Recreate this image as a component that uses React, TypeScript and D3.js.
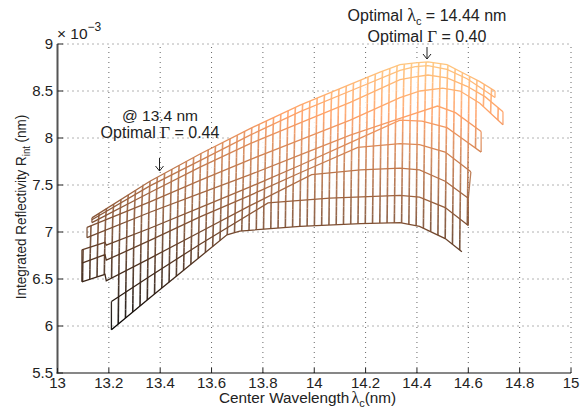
import React from "react";
import * as d3 from "d3";

const W = 586, H = 411;
const xTicks = [13, 13.2, 13.4, 13.6, 13.8, 14, 14.2, 14.4, 14.6, 14.8, 15];
const yTicks = [5.5, 6, 6.5, 7, 7.5, 8, 8.5, 9];

// Each row of the mesh (one Γ), read as wavelength knots and reflectivity (×10⁻³)
const row1L = [13.21, 13.36, 13.66, 13.71, 13.945, 14.18, 14.334, 14.41, 14.51, 14.575];
const row1V = [5.96, 6.30, 6.97, 7.01, 7.06, 7.09, 7.10, 7.06, 6.93, 6.79];
const row2L = [13.21, 13.36, 13.555, 13.82, 14.06, 14.334, 14.41, 14.51, 14.6];
const row2V = [6.26, 6.53, 6.87, 7.31, 7.36, 7.39, 7.37, 7.26, 7.07];
const row3L = [13.095, 13.185, 13.19, 13.36, 13.555, 13.75, 13.99, 14.18, 14.334, 14.41, 14.51, 14.6];
const row3V = [6.47, 6.55, 6.48, 6.72, 7.00, 7.28, 7.61, 7.66, 7.68, 7.66, 7.54, 7.36];
const row4L = [13.095, 13.185, 13.19, 13.36, 13.555, 13.75, 13.945, 14.17, 14.334, 14.41, 14.51, 14.61];
const row4V = [6.67, 6.76, 6.70, 6.91, 7.16, 7.39, 7.63, 7.90, 7.94, 7.93, 7.85, 7.64];
const row5L = [13.095, 13.185, 13.19, 13.36, 13.555, 13.75, 13.945, 14.14, 14.334, 14.42, 14.517, 14.568, 14.65];
const row5V = [6.81, 6.89, 6.86, 7.04, 7.26, 7.48, 7.71, 7.95, 8.19, 8.18, 8.11, 8.01, 7.85];
const row6L = [13.115, 13.36, 13.555, 13.75, 13.945, 14.14, 14.334, 14.48, 14.55, 14.65];
const row6V = [6.94, 7.21, 7.41, 7.61, 7.82, 8.03, 8.21, 8.34, 8.27, 8.07];
const row7L = [13.115, 13.36, 13.555, 13.75, 13.945, 14.14, 14.334, 14.412, 14.5, 14.568, 14.645, 14.735];
const row7V = [7.05, 7.32, 7.55, 7.77, 7.98, 8.19, 8.43, 8.50, 8.53, 8.50, 8.37, 8.14];
const row8L = [13.134, 13.36, 13.555, 13.75, 13.945, 14.14, 14.334, 14.393, 14.443, 14.517, 14.595, 14.665, 14.735];
const row8V = [7.10, 7.42, 7.69, 7.94, 8.16, 8.38, 8.62, 8.65, 8.67, 8.64, 8.55, 8.44, 8.28];
const row9L = [13.134, 13.36, 13.555, 13.75, 13.945, 14.14, 14.334, 14.393, 14.443, 14.517, 14.595, 14.645, 14.704];
const row9V = [7.13, 7.49, 7.76, 8.03, 8.28, 8.50, 8.72, 8.76, 8.77, 8.73, 8.63, 8.54, 8.43];
const row10L = [13.134, 13.36, 13.555, 13.75, 13.945, 14.14, 14.256, 14.334, 14.393, 14.443, 14.517, 14.595, 14.645, 14.704];
const row10V = [7.15, 7.54, 7.83, 8.10, 8.35, 8.57, 8.70, 8.78, 8.80, 8.81, 8.78, 8.67, 8.60, 8.50];

const rowsL = [row1L, row2L, row3L, row4L, row5L, row6L, row7L, row8L, row9L, row10L];
const rowsV = [row1V, row2V, row3V, row4V, row5V, row6V, row7V, row8V, row9V, row10V];
// Wavelength of the mesh columns and their slight drift from row to row
const columns = d3.range(13.095, 14.74, 0.0283);
const rowDrift = 0.0012;
// Pairs of rows whose ends are joined by an edge of the mesh
const startEdges = [[0, 1], [2, 3], [3, 4], [5, 6], [7, 8], [8, 9]];
const endEdges = [[1, 2], [2, 3], [4, 5], [6, 7], [8, 9]];

const x = d3.scaleLinear().domain([13, 15]).range([57.5, 571]);
const y = d3.scaleLinear().domain([5.5, 9]).range([373, 44]);

const zMin = 5.96, zMax = 8.81;
const copperT = [0, 0.8, 1];
const copperC = ["#000000", "#ffa066", "#ffc77f"];
const copper = d3.scaleLinear<string>()
  .domain(copperT.map(t => zMin + t * (zMax - zMin)))
  .range(copperC)
  .clamp(true);

function rowAt(r: number, l0: number): [number, number] | null {
  const L = rowsL[r];
  const l = l0 + r * rowDrift;
  if (l < L[0] || l > L[L.length - 1]) return null;
  const f = d3.scaleLinear().domain(L).range(rowsV[r]);
  return [x(l), y(f(l))];
}

function Mesh() {
  const rowPaths = rowsL.map((L, r) =>
    d3.line<number>().x(d => x(d)).y((_, i) => y(rowsV[r][i]))(L) as string
  );
  const line2 = d3.line();
  let faces = "";
  const pieces: { x1: number; x2: number; y1: number; y2: number; c: string }[] = [];
  for (let r = 0; r < rowsL.length - 1; r++) {
    columns.forEach((l, j) => {
      const p = rowAt(r, l), q = rowAt(r + 1, l);
      if (!p || !q) return;
      const n = Math.max(1, Math.ceil((p[1] - q[1]) / 12));
      for (let k = 0; k < n; k++) {
        const a = p[1] + ((q[1] - p[1]) * k) / n;
        const b = p[1] + ((q[1] - p[1]) * (k + 1)) / n;
        const xa = p[0] + ((q[0] - p[0]) * k) / n;
        const xb = p[0] + ((q[0] - p[0]) * (k + 1)) / n;
        pieces.push({ x1: xa, x2: xb, y1: a, y2: b, c: copper(y.invert((a + b) / 2)) });
      }
      const nx = columns[j + 1];
      const p2 = nx !== undefined ? rowAt(r, nx) : null;
      const q2 = nx !== undefined ? rowAt(r + 1, nx) : null;
      if (p2 && q2) faces += line2([p, p2, q2, q]) + "Z";
    });
  }
  const endPt = (r: number, last: boolean) => {
    const L = rowsL[r], i = last ? L.length - 1 : 0;
    return [x(L[i]), y(rowsV[r][i])] as [number, number];
  };
  const edges = [
    ...startEdges.map(([a, b]) => line2([endPt(a, false), endPt(b, false)])),
    ...endEdges.map(([a, b]) => line2([endPt(a, true), endPt(b, true)])),
  ].join("");
  return (
    <g>
      <path d={faces} fill="#fff" fillOpacity={0.88} stroke="none" />
      {pieces.map((s, i) => (
        <line key={i} x1={s.x1} x2={s.x2} y1={s.y1} y2={s.y2} stroke={s.c} strokeWidth={1.6} strokeOpacity={0.9} />
      ))}
      <path d={edges} fill="none" stroke="url(#copper)" strokeWidth={1.3} strokeOpacity={0.9} />
      {rowPaths.map((d, i) => (
        <path key={i} d={d} fill="none" stroke="url(#copper)" strokeWidth={1.3} />
      ))}
    </g>
  );
}

function Arrow({ px, y1, y2 }: { px: number; y1: number; y2: number }) {
  const d = d3.line()([[px, y1], [px, y2]]) as string;
  const h = d3.line()([[px - 4, y2 - 5], [px, y2], [px + 4, y2 - 5]]) as string;
  return <path d={d + h} fill="none" stroke="#222" strokeWidth={1} />;
}

const font = "'Liberation Sans', Arial, sans-serif";
const serif = "'Liberation Serif', 'DejaVu Serif', serif";

export default function App() {
  const tickColor = "#222";
  return (
    <svg width={W} height={H} viewBox={`0 0 ${W} ${H}`}
      style={{ position: "absolute", left: 0, top: 0, background: "#fff" }} fontFamily={font}>
      <defs>
        <linearGradient id="copper" gradientUnits="userSpaceOnUse" x1={0} x2={0} y1={y(zMin)} y2={y(zMax)}>
          {copperT.map((o, i) => <stop key={o} offset={o} stopColor={copperC[i]} />)}
        </linearGradient>
      </defs>
      {xTicks.slice(1).map(t => (
        <line key={t} x1={x(t)} x2={x(t)} y1={373} y2={44} stroke="#666" strokeWidth={1} strokeDasharray="1 4" />
      ))}
      {yTicks.slice(1).map(t => (
        <line key={t} x1={57.5} x2={571} y1={y(t)} y2={y(t)} stroke="#666" strokeWidth={1} strokeDasharray="1 4" />
      ))}
      <Mesh />
      <line x1={57.5} x2={57.5} y1={44} y2={373.5} stroke="#555" strokeWidth={2} />
      <line x1={56.5} x2={571} y1={373} y2={373} stroke="#111" strokeWidth={1.2} />
      {xTicks.map(t => (
        <line key={t} x1={x(t)} x2={x(t)} y1={373} y2={368} stroke={tickColor} />
      ))}
      {yTicks.map(t => (
        <line key={t} x1={57.5} x2={63} y1={y(t)} y2={y(t)} stroke={tickColor} />
      ))}
      {xTicks.map(t => (
        <text key={t} x={x(t)} y={388} textAnchor="middle" fontSize={15} fill="#222">{t}</text>
      ))}
      {yTicks.map(t => (
        <text key={t} x={53} y={y(t) + 5} textAnchor="end" fontSize={15} fill="#222">{t}</text>
      ))}
      <text x={57} y={39} fontSize={15.5} fill="#222">× 10<tspan dy={-8} fontSize={12}>−3</tspan></text>
      <text x={219} y={403} fontSize={15.3} fill="#222">Center Wavelength<tspan dx={2} fontFamily={serif} fontSize={16}>λ</tspan><tspan dy={4} fontSize={11}>c</tspan><tspan dy={-4}>(nm)</tspan></text>
      <text transform="translate(26,207) rotate(-90) scale(0.9,1)" textAnchor="middle" fontSize={15} fill="#222">Integrated Reflectivity R<tspan dy={4} fontSize={10.5}>int</tspan><tspan dy={-4}> (nm)</tspan></text>
      <text x={160} y={121} textAnchor="middle" fontSize={15.5} fill="#222">@ 13.4 nm</text>
      <text x={160} y={138} textAnchor="middle" fontSize={16} fill="#222">Optimal <tspan fontFamily={serif} fontSize={17}>Γ</tspan> = 0.44</text>
      <Arrow px={159.5} y1={158} y2={171} />
      <text x={427} y={21} textAnchor="middle" fontSize={16} fill="#222">Optimal <tspan fontFamily={serif} fontSize={18}>λ</tspan><tspan dy={4} fontSize={11}>c</tspan><tspan dy={-4}> = 14.44 nm</tspan></text>
      <text x={427} y={42} textAnchor="middle" fontSize={16} fill="#222">Optimal <tspan fontFamily={serif} fontSize={17}>Γ</tspan> = 0.40</text>
      <Arrow px={427} y1={47} y2={59} />
    </svg>
  );
}
